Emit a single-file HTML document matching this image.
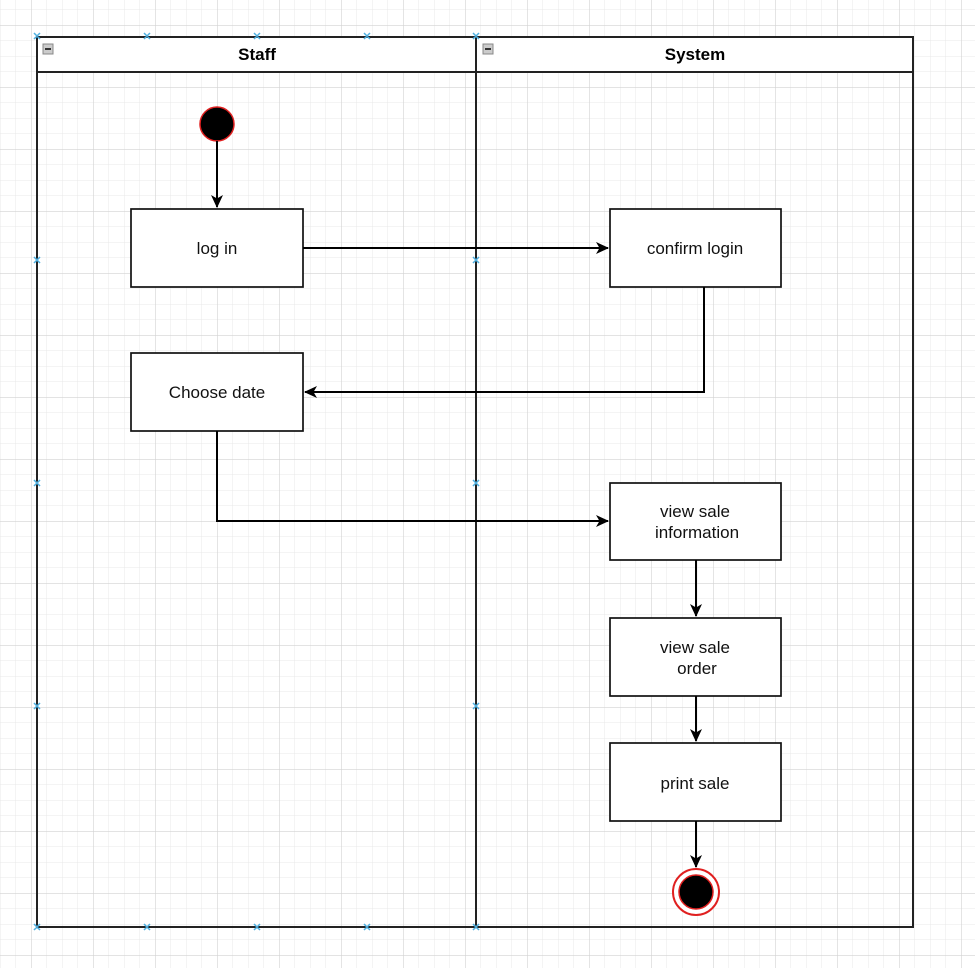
<!DOCTYPE html>
<html><head><style>body{margin:0;background:#fff}svg{display:block}</style></head><body>
<svg width="975" height="968" xmlns="http://www.w3.org/2000/svg" font-family="Liberation Sans, Arial, sans-serif">
<defs>
<pattern id="g" x="31" y="25" width="15.5" height="15.5" patternUnits="userSpaceOnUse"><path d="M0 0V15.5M0 0H15.5" stroke="#e8e8e8" stroke-width="1" fill="none"/></pattern>
<pattern id="G" x="31" y="25" width="62" height="62" patternUnits="userSpaceOnUse"><path d="M0 0V62M0 0H62" stroke="#d2d2d2" stroke-width="1.2" fill="none"/></pattern>
<marker id="a" markerWidth="14" markerHeight="14" refX="12" refY="6" orient="auto" markerUnits="userSpaceOnUse"><path d="M0 0L13 6L0 12L3.5 6Z" fill="#000"/></marker>
</defs>
<rect width="975" height="968" fill="url(#g)"/>
<rect width="975" height="968" fill="url(#G)"/>
<rect x="37" y="37" width="876" height="35" fill="#fff"/>
<rect x="37" y="37" width="876" height="890" fill="none" stroke="#222" stroke-width="2"/>
<line x1="37" y1="72" x2="913" y2="72" stroke="#222" stroke-width="2"/>
<line x1="476" y1="37" x2="476" y2="927" stroke="#222" stroke-width="2"/>
<rect x="43" y="44" width="10" height="10" fill="#ccc" stroke="#888"/><line x1="45" y1="49" x2="51" y2="49" stroke="#333" stroke-width="2"/>
<rect x="483" y="44" width="10" height="10" fill="#ccc" stroke="#888"/><line x1="485" y1="49" x2="491" y2="49" stroke="#333" stroke-width="2"/>
<text x="257" y="60" font-size="17" font-weight="bold" text-anchor="middle">Staff</text>
<text x="695" y="60" font-size="17" font-weight="bold" text-anchor="middle">System</text>
<g stroke="#4fb0e0" stroke-width="1.5">
<path d="M34 33l6 6M40 33l-6 6M144 33l6 6M150 33l-6 6M254 33l6 6M260 33l-6 6M364 33l6 6M370 33l-6 6M473 33l6 6M479 33l-6 6"/>
<path d="M34 924l6 6M40 924l-6 6M144 924l6 6M150 924l-6 6M254 924l6 6M260 924l-6 6M364 924l6 6M370 924l-6 6M473 924l6 6M479 924l-6 6"/>
<path d="M34 257l6 6M40 257l-6 6M34 480l6 6M40 480l-6 6M34 703l6 6M40 703l-6 6M473 257l6 6M479 257l-6 6M473 480l6 6M479 480l-6 6M473 703l6 6M479 703l-6 6"/>
</g>
<circle cx="217" cy="124" r="17" fill="#000" stroke="#e02020" stroke-width="1.5"/>
<g fill="#fff" stroke="#111" stroke-width="1.7">
<rect x="131" y="209" width="172" height="78"/>
<rect x="610" y="209" width="171" height="78"/>
<rect x="131" y="353" width="172" height="78"/>
<rect x="610" y="483" width="171" height="77"/>
<rect x="610" y="618" width="171" height="78"/>
<rect x="610" y="743" width="171" height="78"/>
</g>
<g font-size="17" text-anchor="middle" fill="#111">
<text x="217" y="254">log in</text>
<text x="695" y="254">confirm login</text>
<text x="217" y="398">Choose date</text>
<text x="695" y="517">view sale</text><text x="697" y="538">information</text>
<text x="695" y="653">view sale</text><text x="697" y="674">order</text>
<text x="695" y="789">print sale</text>
</g>
<g stroke="#000" stroke-width="2" fill="none" marker-end="url(#a)">
<path d="M217 141V207"/>
<path d="M303 248H608"/>
<path d="M704 287V392H305"/>
<path d="M217 431V521H608"/>
<path d="M696 560V616"/>
<path d="M696 696V741"/>
<path d="M696 821V867"/>
</g>
<circle cx="696" cy="892" r="23" fill="#fff" stroke="#e02020" stroke-width="2"/>
<circle cx="696" cy="892" r="17" fill="#000" stroke="#e02020" stroke-width="1.5"/>
</svg>
</body></html>
